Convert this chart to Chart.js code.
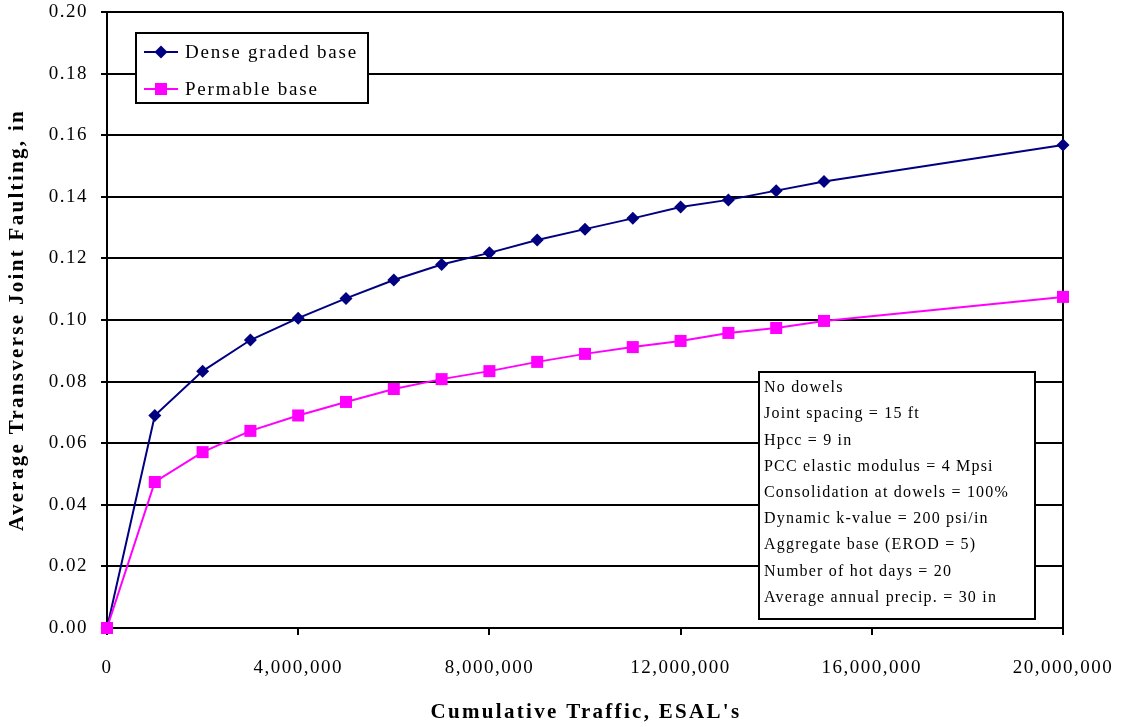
<!DOCTYPE html>
<html>
<head>
<meta charset="utf-8">
<script src="https://cdn.jsdelivr.net/npm/chart.js@4/dist/chart.umd.min.js"></script>
<style>
  body { margin: 0; background: #fff; }
  canvas { display: block; }
</style>
</head>
<body>
<canvas id="faultChart" width="1122" height="727"></canvas>
<script>
// cumulative ESALs at each reading
const traffic = [0, 1000000, 2000000, 3000000, 4000000, 5000000, 6000000, 7000000,
  8000000, 9000000, 10000000, 11000000, 12000000, 13000000, 14000000, 15000000, 20000000];
const denseBase = [0, 0.069, 0.0834, 0.0935, 0.1006, 0.107, 0.113, 0.118,
  0.1218, 0.126, 0.1295, 0.133, 0.1367, 0.139, 0.142, 0.145, 0.1568];
const permeableBase = [0, 0.0474, 0.0571, 0.064, 0.069, 0.0734, 0.0776, 0.0808,
  0.0834, 0.0864, 0.089, 0.0912, 0.0932, 0.0958, 0.0974, 0.0997, 0.1075];
const xTickValues = [0, 4000000, 8000000, 12000000, 16000000, 20000000];
const yTickValues = [0, 0.02, 0.04, 0.06, 0.08, 0.10, 0.12, 0.14, 0.16, 0.18, 0.20];
const seriesNames = ['Dense graded base', 'Permable base'];
const notes = [
  'No dowels',
  'Joint spacing = 15 ft',
  'Hpcc = 9 in',
  'PCC elastic modulus = 4 Mpsi',
  'Consolidation at dowels = 100%',
  'Dynamic k-value = 200 psi/in',
  'Aggregate base (EROD = 5)',
  'Number of hot days = 20',
  'Average annual precip. = 30 in'
];

const serif = '"Liberation Serif", "Times New Roman", serif';

function points(ys) {
  return traffic.map((x, i) => ({ x: x, y: ys[i] }));
}

function marker(ctx, style, x, y, color) {
  ctx.fillStyle = color;
  ctx.beginPath();
  if (style === 'rectRot') {
    ctx.moveTo(x - 6.5, y); ctx.lineTo(x, y - 6.5); ctx.lineTo(x + 6.5, y); ctx.lineTo(x, y + 6.5);
  } else {
    ctx.rect(x - 6, y - 6, 12, 12);
  }
  ctx.closePath();
  ctx.fill();
}

const extras = {
  id: 'extras',
  beforeDraw(chart) {
    chart.ctx.letterSpacing = '1.5px';
  },
  afterDraw(chart) {
    const ctx = chart.ctx, a = chart.chartArea;
    ctx.save();

    // legend box
    const lx = a.left + 29, ly = a.top + 21;
    ctx.fillStyle = '#fff';
    ctx.fillRect(lx, ly, 232, 70);
    ctx.strokeStyle = '#000';
    ctx.lineWidth = 2;
    ctx.strokeRect(lx, ly, 232, 70);
    ctx.font = '19px ' + serif;
    ctx.letterSpacing = '1.8px';
    ctx.textBaseline = 'middle';
    ctx.textAlign = 'left';
    chart.data.datasets.forEach((ds, i) => {
      const cy = ly + 19 + i * 37;
      ctx.strokeStyle = ds.borderColor;
      ctx.lineWidth = 2;
      ctx.beginPath();
      ctx.moveTo(lx + 8, cy);
      ctx.lineTo(lx + 42, cy);
      ctx.stroke();
      marker(ctx, ds.pointStyle, lx + 25, cy, ds.borderColor);
      ctx.fillStyle = '#000';
      ctx.fillText(ds.label, lx + 49, cy + 1);
    });

    // notes box
    const bx = a.left + 652, by = a.top + 360;
    ctx.fillStyle = '#fff';
    ctx.fillRect(bx, by, 276, 247);
    ctx.strokeStyle = '#000';
    ctx.lineWidth = 2;
    ctx.strokeRect(bx, by, 276, 247);
    ctx.font = '16px ' + serif;
    ctx.letterSpacing = '1.2px';
    ctx.fillStyle = '#000';
    notes.forEach((t, i) => {
      ctx.fillText(t, bx + 5, by + 16 + i * 26.2);
    });

    // axis titles
    ctx.font = 'bold 21px ' + serif;
    ctx.letterSpacing = '2.3px';
    ctx.textAlign = 'center';
    ctx.fillText('Cumulative Traffic, ESAL\'s', (a.left + a.right) / 2 + 1, chart.height - 14);
    ctx.translate(18, (a.top + a.bottom) / 2);
    ctx.rotate(-Math.PI / 2);
    ctx.fillText('Average Transverse Joint Faulting, in', 0, 0);
    ctx.restore();
  }
};

new Chart(document.getElementById('faultChart'), {
  type: 'line',
  data: {
    datasets: [{
      label: seriesNames[0],
      data: points(denseBase),
      borderColor: '#000080',
      backgroundColor: '#000080',
      borderWidth: 2,
      pointStyle: 'rectRot',
      pointRadius: 6.5,
      pointBorderWidth: 0,
      tension: 0,
      clip: false,
      order: 1
    }, {
      label: seriesNames[1],
      data: points(permeableBase),
      borderColor: '#ff00ff',
      backgroundColor: '#ff00ff',
      borderWidth: 2,
      pointStyle: 'rect',
      pointRadius: 8.5,
      pointBorderWidth: 0,
      tension: 0,
      clip: false,
      order: 0
    }]
  },
  options: {
    responsive: false,
    animation: false,
    layout: { padding: { top: 12, right: 59, left: 0, bottom: 0 } },
    plugins: {
      legend: { display: false },
      tooltip: { enabled: false }
    },
    scales: {
      x: {
        type: 'linear',
        min: 0,
        max: 20000000,
        afterBuildTicks: s => { s.ticks = xTickValues.map(v => ({ value: v })); },
        afterFit: s => { s.height = 99; s.paddingLeft = 0; s.paddingRight = 0; },
        border: { color: '#000', width: 2 },
        grid: {
          drawOnChartArea: true,
          color: c => (c.tick && c.tick.value === 20000000) ? '#000' : 'rgba(0,0,0,0)',
          lineWidth: 2,
          tickColor: '#000',
          tickLength: 7
        },
        ticks: {
          color: '#000',
          padding: 22,
          maxRotation: 0,
          font: { family: serif, size: 19 },
          callback: v => v.toLocaleString('en-US')
        }
      },
      y: {
        min: 0,
        max: 0.2,
        afterBuildTicks: s => { s.ticks = yTickValues.map(v => ({ value: v })); },
        afterFit: s => { s.width = 107; s.paddingTop = 0; s.paddingBottom = 0; },
        border: { color: '#000', width: 2 },
        grid: {
          color: '#000',
          lineWidth: 2,
          tickColor: '#000',
          tickLength: 6
        },
        ticks: {
          color: '#000',
          padding: 13,
          font: { family: serif, size: 19 },
          callback: v => v.toFixed(2)
        }
      }
    }
  },
  plugins: [extras]
});
</script>
</body>
</html>
